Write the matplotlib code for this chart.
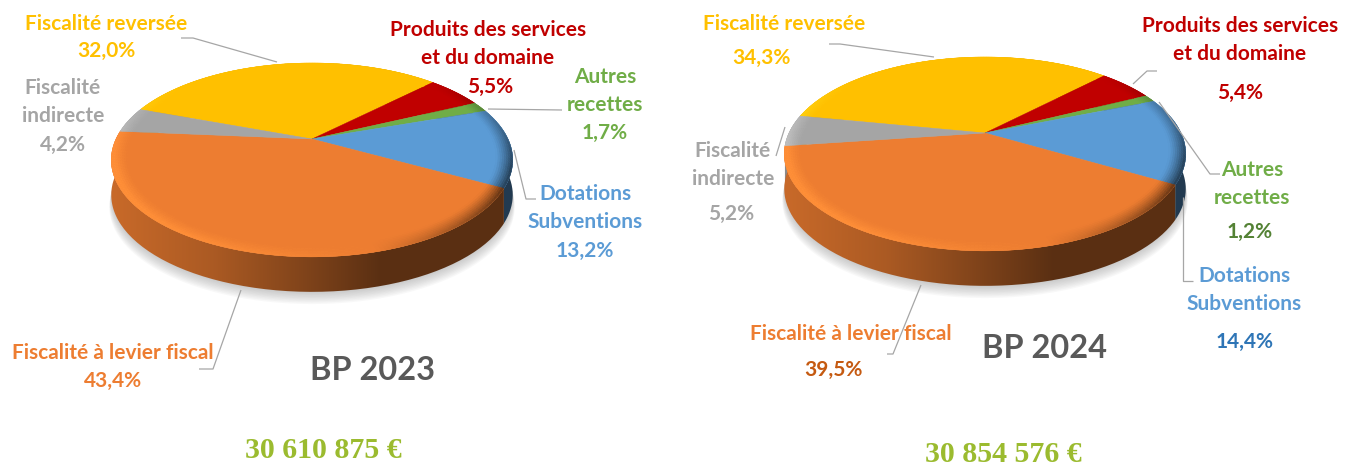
import numpy as np
import matplotlib
matplotlib.use("Agg")
import matplotlib.pyplot as plt
from matplotlib.collections import PolyCollection
from matplotlib.patches import PathPatch, Polygon
from matplotlib.path import Path
from matplotlib.colors import to_rgb

# ---- data
categories = ["Fiscalité reversée", "Produits des services\net du domaine", "Autres\nrecettes",
              "Dotations\nSubventions", "Fiscalité à levier fiscal", "Fiscalité\nindirecte"]
values_2023 = [32.0, 5.5, 1.7, 13.2, 43.4, 4.2]
values_2024 = [34.3, 5.4, 1.2, 14.4, 39.5, 5.2]
titles = ["BP 2023", "BP 2024"]
totals = ["30 610 875 €", "30 854 576 €"]

# ---- style
slice_colors = ["#FFC000", "#C00000", "#70AD47", "#5B9BD5", "#ED7D31", "#A5A5A5"]
name_colors = slice_colors
pct_colors_2023 = slice_colors
pct_colors_2024 = ["#FFC000", "#C00000", "#548235", "#2E75B6", "#C55A11", "#A5A5A5"]
LABEL_FONT = "Lato"
LABEL_SIZE = 15
LEADER = "#A6A6A6"
KP, A, B, DEPTH = 0.216, 92.4, 196.0, 35.0

# ---- layout (pixels)
apex = [(312, 139), (985, 133)]
start_deg = [-70, -79]
name_pos = [
    [(106, 22), (488, 42), (605, 89), (585, 206), (113, 351), (63, 100)],
    [(784, 22), (1240, 38), (1252, 182), (1244, 288), (851, 332), (733, 163)],
]
pct_pos = [
    [(106, 49), (490, 85), (605, 131), (585, 249), (113, 379), (63, 143)],
    [(761, 56), (1240, 91), (1250, 230), (1245, 340), (833, 368), (731, 212)],
]
title_pos = [(373, 369), (1045, 347)]
total_pos = [(323, 449), (1003, 453)]
leaders = [
    [[(181, 38), (193, 38), (277, 62)], [(562, 110), (488, 109)],
     [(514, 150), (526, 199), (536, 199)], [(241, 290), (213, 369), (199, 369)]],
    [[(829, 44), (840, 44), (934, 57)], [(1133, 84), (1147, 71), (1157, 71)],
     [(1159, 102), (1210, 174), (1220, 174)], [(1183, 197), (1183, 281), (1193, 281)],
     [(785, 127), (776, 156)], [(921, 285), (893, 354), (887, 354)]],
]

fig = plt.figure(figsize=(13.54, 4.66), dpi=100)
ax = fig.add_axes([0, 0, 1, 1])
ax.set_axis_off()


def project(t, r, center):
    """Perspective projection of a disc point (t clockwise from the back)."""
    x, y = r * np.sin(t), r * np.cos(t)
    d = 1 + KP * y
    return center[0] + B * x / d, center[1] - A * y / d


def side_shade(px, cx):
    return np.interp((px - cx) / B, [-1.0, -0.5, -0.06, 0.35, 1.0], [0.84, 0.72, 0.55, 0.38, 0.38])


def draw_pie(values, center, start):
    t_all = np.linspace(0, 2 * np.pi, 361)
    ox, oy = project(t_all, 1.0, center)
    # soft shadow under the pie
    for i in range(9):
        off = DEPTH + 1 + i * 1.4
        ax.add_patch(Polygon(np.c_[center[0] + (ox - center[0]) * (1.0 + i * 0.0012), oy + off],
                             closed=True, fc="#808080", ec="none", alpha=0.05, zorder=1))
    bounds = np.radians(start + np.cumsum([0] + list(values)) * 3.6)
    # side wall with a horizontal gradient
    for i in range(len(values)):
        ts = np.linspace(bounds[i], bounds[i + 1], 120)
        x, y = project(ts, 1.0, center)
        poly = np.r_[np.c_[x, y], np.c_[x[::-1], y[::-1] + DEPTH]]
        patch = PathPatch(Path(np.r_[poly, poly[:1]]), fc="none", ec="none", transform=ax.transData)
        ax.add_patch(patch)
        xs = np.linspace(center[0] - 1.1 * B, center[0] + 1.1 * B, 200)
        rgb = np.outer(side_shade(xs, center[0]), to_rgb(slice_colors[i]))[None, :, :]
        im = ax.imshow(rgb, extent=(xs[0], xs[-1], center[1] + 200, center[1] - 120), aspect="auto",
                       interpolation="bilinear", zorder=2)
        im.set_clip_path(patch)
    # top face with a rim bevel: bright on the front-left, dark on the front-right
    for i in range(len(values)):
        base = np.array(to_rgb(slice_colors[i]))
        ts = np.linspace(bounds[i], bounds[i + 1], 120)
        x, y = project(ts, 1.0, center)
        ax.add_patch(Polygon(np.r_[[center], np.c_[x, y]], closed=True, fc=slice_colors[i], ec=slice_colors[i],
                             lw=0.3, zorder=3))
        rings = np.linspace(0.92, 1.0, 9)
        segs = max(4, int((bounds[i + 1] - bounds[i]) * 60))
        tg = np.linspace(bounds[i], bounds[i + 1], segs + 1)
        polys, cols = [], []
        for r0, r1 in zip(rings[:-1], rings[1:]):
            s = ((r0 + r1) / 2 - 0.92) / 0.08
            for t0, t1 in zip(tg[:-1], tg[1:]):
                tm = (t0 + t1) / 2
                wt = np.clip(0.7 - np.cos(tm), 0, 1)
                light = np.cos(tm - np.radians(255))
                amt = wt * s ** 1.3
                if light >= 0:
                    target = np.array([1.0, 0.56, 0.22]) if i == 4 else np.minimum(base + 0.1, 1)
                    c = base + (target - base) * min(1.0, amt * light * 1.5)
                else:
                    c = base * (1 + 0.62 * amt * max(light * 1.4, -1))
                pts = [project(t0, r0, center), project(t1, r0, center),
                       project(t1, r1, center), project(t0, r1, center)]
                polys.append(pts)
                cols.append(np.clip(c, 0, 1))
        ax.add_collection(PolyCollection(polys, facecolors=cols, edgecolors=cols, linewidths=0.3, zorder=4))


def label(pos, txt, color, **kw):
    ax.text(pos[0], pos[1] + 2, txt, color=color, ha="center", va="center", **kw)


series = [values_2023, values_2024]
pct_colors = [pct_colors_2023, pct_colors_2024]
for k, values in enumerate(series):
    draw_pie(values, apex[k], start_deg[k])
    for line in leaders[k]:
        xs, ys = zip(*line)
        ax.plot(xs, ys, color=LEADER, lw=0.9, zorder=5, solid_capstyle="butt")
    for i, name in enumerate(categories):
        label(name_pos[k][i], name, name_colors[i], family=LABEL_FONT, fontweight="bold",
              fontsize=LABEL_SIZE, linespacing=1.45, zorder=6)
        label(pct_pos[k][i], f"{values[i]:.1f}%".replace(".", ","), pct_colors[k][i], family=LABEL_FONT,
              fontweight="bold", fontsize=LABEL_SIZE, zorder=6)
    label(title_pos[k], titles[k], "#595959", family=LABEL_FONT, fontweight="bold", fontsize=23.4, zorder=6)
    label(total_pos[k], totals[k], "#9BBB2F", family="Liberation Serif", fontweight="bold", fontsize=21.5, zorder=6)

ax.set_xlim(0, 1354)
ax.set_ylim(466, 0)
fig.savefig("out.png", dpi=100, facecolor="white")
